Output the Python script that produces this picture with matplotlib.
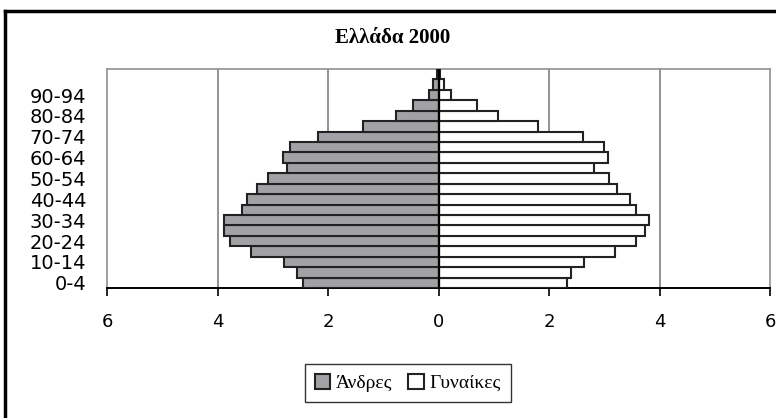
import numpy as np
import matplotlib.pyplot as plt
from matplotlib.lines import Line2D

# age groups, bottom to top
ages = ['0-4', '5-9', '10-14', '15-19', '20-24', '25-29', '30-34', '35-39',
        '40-44', '45-49', '50-54', '55-59', '60-64', '65-69', '70-74',
        '75-79', '80-84', '85-89', '90-94', '95-99', '100+']
# percent of population
andres = [2.45, 2.57, 2.80, 3.40, 3.77, 3.88, 3.88, 3.56, 3.47, 3.29, 3.08,
          2.74, 2.81, 2.69, 2.18, 1.37, 0.77, 0.47, 0.17, 0.10, 0.03]
gynaikes = [2.32, 2.40, 2.63, 3.20, 3.58, 3.73, 3.81, 3.58, 3.46, 3.23, 3.09,
            2.81, 3.06, 2.99, 2.62, 1.80, 1.08, 0.69, 0.22, 0.10, 0.03]
xticks = [-6, -4, -2, 0, 2, 4, 6]
xlabels = ['6', '4', '2', '0', '2', '4', '6']

W, H = 776, 418
fig = plt.figure(figsize=(W / 100, H / 100), dpi=100)
ax = fig.add_axes([107 / W, 1 - 288 / H, (770 - 107) / W, (288 - 69) / H])

y = np.arange(len(ages))
ax.barh(y, [-v for v in andres], height=1.0, color='#a2a2a6',
        edgecolor='#222222', linewidth=1.5, label='Άνδρες', zorder=3)
ax.barh(y, gynaikes, height=1.0, color='white',
        edgecolor='#222222', linewidth=1.5, label='Γυναίκες', zorder=3)

ax.set_xlim(-6, 6)
ax.set_ylim(-0.5, len(ages) - 0.5)
ax.set_xticks(xticks)
ax.set_xticklabels(xlabels, fontsize=13)
ax.set_yticks(y[::2][:-1])
ax.set_yticklabels(ages[::2][:-1], fontsize=14)
ax.tick_params(axis='y', length=0, pad=15)
ax.tick_params(axis='x', direction='out', length=6, width=1.2, pad=12)

for v in [-4, -2, 2, 4]:
    ax.axvline(v, color='#808080', linewidth=1.2, zorder=1)
ax.axvline(0, color='black', linewidth=1.6, zorder=4)

for s in ['top', 'left', 'right']:
    ax.spines[s].set_color('#909090')
    ax.spines[s].set_linewidth(1.2)
ax.spines['bottom'].set_color('black')
ax.spines['bottom'].set_linewidth(1.4)

fig.text(393 / W, 1 - 38 / H, 'Ελλάδα 2000', ha='center', va='center',
         fontsize=15, fontweight='bold', family='Liberation Serif')

fig.legend(loc='center', bbox_to_anchor=(408 / W, 1 - 383 / H), ncol=2,
           frameon=True, fancybox=False, edgecolor='black',
           prop={'family': 'Liberation Serif', 'size': 14},
           handlelength=0.8, handleheight=0.8, handletextpad=0.3,
           columnspacing=0.8, borderpad=0.5)

# outer chart border
fig.add_artist(Line2D([5 / W, 5 / W], [0, 1 - 11 / H], color='black',
                      linewidth=2.5, transform=fig.transFigure))
fig.add_artist(Line2D([5 / W, 1], [1 - 11 / H, 1 - 11 / H], color='black',
                      linewidth=2.5, transform=fig.transFigure))

fig.savefig('out.png', dpi=100)
